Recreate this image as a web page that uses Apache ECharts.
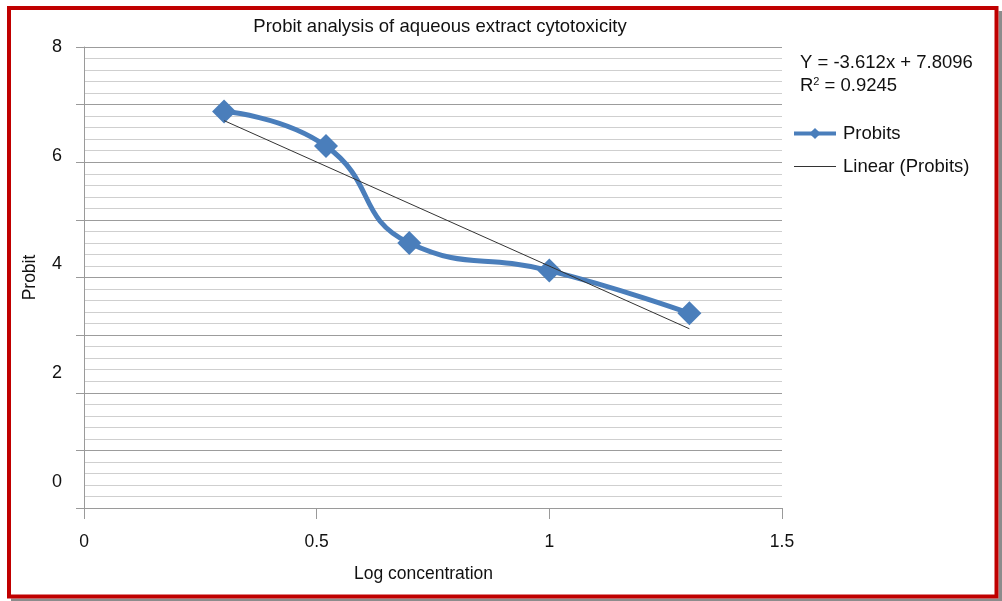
<!DOCTYPE html>
<html>
<head>
<meta charset="utf-8">
<script src="https://cdn.jsdelivr.net/npm/echarts@6/dist/echarts.min.js"></script>
<style>
  html, body { margin: 0; padding: 0; background: #fff; }
  #chart { width: 1002px; height: 601px; }
</style>
</head>
<body>
<div id="chart"></div>
<script>
var logConc = [0.301, 0.52, 0.699, 1, 1.301];
var probits = [6.88, 6.28, 4.6, 4.12, 3.38];
var slope = -3.612;
var intercept = 7.8096;
var rSquared = 0.9245;
var xTicks = [0, 0.5, 1, 1.5];
var yLabels = [0, 2, 4, 6, 8];

var font = '"Liberation Sans", Arial, sans-serif';
var myChart = echarts.init(document.getElementById('chart'));

var probitData = logConc.map(function (x, i) { return [x, probits[i]]; });
// trendline drawn across the data range from the fitted equation
var trendX = [logConc[0], logConc[logConc.length - 1]];
var trendData = trendX.map(function (x) { return [x, slope * x + intercept]; });

var option = {
  backgroundColor: '#fff',
  animation: false,
  title: {
    text: 'Probit analysis of aqueous extract cytotoxicity',
    left: 440,
    top: 17,
    padding: 0,
    textAlign: 'center',
    textStyle: { fontFamily: font, fontSize: 18.5, fontWeight: 'normal', color: '#111' }
  },
  legend: {
    orient: 'vertical',
    left: 792,
    top: 124,
    padding: 0,
    itemWidth: 42,
    itemHeight: 14,
    itemGap: 14,
    textStyle: { fontFamily: font, fontSize: 18.5, color: '#111', padding: [0, 0, 0, 2] },
    data: [
      { name: 'Probits', lineStyle: { width: 4 } },
      { name: 'Linear (Probits)', itemStyle: { opacity: 0 }, lineStyle: { width: 1 } }
    ]
  },
  grid: { left: 84, right: 220, top: 47, bottom: 93 },
  xAxis: {
    type: 'value',
    min: 0,
    max: 1.5,
    interval: 0.5,
    name: 'Log concentration',
    nameLocation: 'middle',
    nameGap: 57,
    nameTextStyle: { fontFamily: font, fontSize: 17.5, color: '#111', padding: [0, 19, 0, 0] },
    axisLine: { lineStyle: { color: '#9a9a9a' } },
    axisTick: { show: true, length: 11, inside: false, lineStyle: { color: '#9a9a9a' } },
    axisLabel: {
      margin: 25,
      fontFamily: font, fontSize: 17.5, color: '#111',
      formatter: function (v) { return xTicks.indexOf(v) >= 0 ? String(v) : ''; }
    },
    splitLine: { show: false }
  },
  yAxis: [
    {
      type: 'value',
      position: 'left',
      min: 0,
      max: 8,
      interval: 1,
      axisLine: { show: true, lineStyle: { color: '#9a9a9a' } },
      axisTick: { show: true, length: 8, lineStyle: { color: '#9a9a9a' } },
      axisLabel: { show: false },
      splitLine: { show: true, lineStyle: { color: '#9c9c9c', width: 1 } },
      minorTick: { show: false, splitNumber: 5 },
      minorSplitLine: { show: true, lineStyle: { color: '#cfcfcf', width: 1 } }
    },
    {
      // label axis, placed like the reference's labels
      type: 'value',
      position: 'left',
      offset: 0,
      min: -0.478,
      max: 8,
      name: 'Probit',
      nameLocation: 'middle',
      nameGap: 45,
      nameTextStyle: { fontFamily: font, fontSize: 17.5, color: '#111' },
      axisLine: { show: false },
      axisTick: { show: false },
      splitLine: { show: false },
      axisLabel: {
        customValues: yLabels,
        margin: 22,
        fontFamily: font, fontSize: 18, color: '#111'
      }
    }
  ],
  graphic: [
    {
      type: 'text',
      left: 800,
      top: 53,
      style: {
        text: 'Y = -3.612x + 7.8096',
        fontFamily: font, fontSize: 18.5, fill: '#111'
      }
    },
    {
      type: 'text',
      left: 800,
      top: 76,
      style: {
        text: 'R{sup|2} = ' + rSquared,
        fontFamily: font, fontSize: 18.5, fill: '#111',
        rich: { sup: { fontFamily: font, fontSize: 11, fill: '#111', verticalAlign: 'top', padding: [0, 0, 9, 0] } }
      }
    },
    {
      type: 'rect',
      silent: true,
      z: 99,
      shape: { x: 998.5, y: 11, width: 3.5, height: 590 },
      style: { fill: '#8c8c8c' }
    },
    {
      type: 'rect',
      silent: true,
      z: 99,
      shape: { x: 11, y: 598.5, width: 991, height: 2.5 },
      style: { fill: '#8c8c8c' }
    },
    {
      type: 'rect',
      silent: true,
      z: 100,
      shape: { x: 9, y: 8, width: 987.5, height: 588.5 },
      style: { fill: 'none', stroke: '#c00000', lineWidth: 4 }
    }
  ],
  series: [
    {
      name: 'Probits',
      type: 'line',
      data: probitData,
      smooth: 0.5,
      symbol: 'diamond',
      symbolSize: 24,
      lineStyle: { color: '#4a7ebb', width: 5 },
      itemStyle: { color: '#4a7ebb' },
      z: 3
    },
    {
      name: 'Linear (Probits)',
      type: 'line',
      data: trendData,
      symbol: 'none',
      lineStyle: { color: '#333', width: 1 },
      itemStyle: { color: '#333' },
      z: 4
    }
  ]
};

myChart.setOption(option);
</script>
</body>
</html>
